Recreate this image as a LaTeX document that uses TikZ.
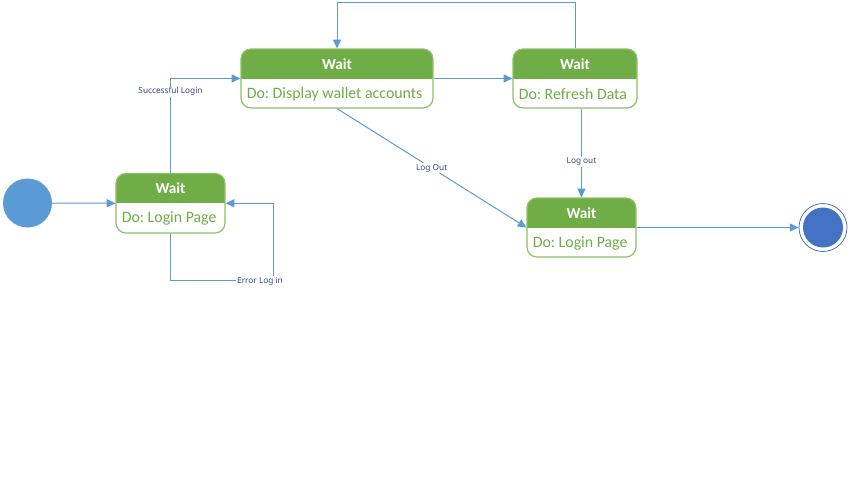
\documentclass[tikz,border=0pt]{standalone}
\usepackage{fontspec}
\setmainfont{Carlito}
\newfontfamily\lblfont{Noto Sans}
\usetikzlibrary{arrows.meta,fit}
\frenchspacing
\definecolor{hdr}{HTML}{70AD47}
\definecolor{bord}{HTML}{8CC168}
\definecolor{bodytxt}{HTML}{70AD47}
\definecolor{lineblue}{HTML}{5B9BD5}
\definecolor{startblue}{HTML}{5B9BD5}
\definecolor{endblue}{HTML}{4472C4}
\definecolor{lbl}{HTML}{34497A}
\tikzset{
  frame/.style={draw=bord, line width=0.9pt, rounded corners=7.5pt, inner sep=0pt},
  headtxt/.style={text=white, font=\fontsize{11.5}{13}\selectfont\bfseries},
  dotxt/.style={text=bodytxt, font=\fontsize{11.9}{14}\selectfont\frenchspacing, anchor=west, inner sep=0pt},
  conn/.style={draw=lineblue, line width=0.75pt, -{Triangle[length=6.5pt,width=6pt]}},
  lab/.style={text=lbl, font=\lblfont\fontsize{6.2}{7}\selectfont, fill=white, inner sep=0.6pt},
}
\newcommand\mystate[7]{% name, x1, y1, x2, y2, title, text
  \begin{scope}
    \clip[rounded corners=7.5pt] (#2,#3) rectangle (#4,#5);
    \fill[hdr] (#2,#3) rectangle (#4,{(#3+#5)/2});
  \end{scope}
  \node[frame, fit={(#2,#3) (#4,#5)}] (#1) {};
  \node[headtxt] (#1h) at ({(#2+#4)/2},{#3+15}) {#6};
  \node[dotxt] (#1d) at ({#2+5.5},{#3+45}) {#7};
}
\begin{document}
\begin{tikzpicture}[x=0.75pt,y=-0.75pt]
\useasboundingbox (0,0) rectangle (851,480);
\fill[white] (0,0) rectangle (851,480);

% start / end
\node[circle, fill=startblue, minimum size=36.75pt, inner sep=0pt] (start) at (27.5,203) {};
\node[circle, draw=endblue, line width=0.6pt, minimum size=36pt, inner sep=0pt] (end) at (823,227.5) {};
\node[circle, fill=endblue, minimum size=30pt, inner sep=0pt] (endin) at (823,227.5) {};

% states
\mystate{s1}{116}{173.5}{225}{233}{Wait}{Do: Login Page}
\mystate{s2}{241}{49}{433}{108}{Wait}{Do: Display wallet accounts}
\mystate{s3}{513}{49}{637}{108}{Wait}{Do: Refresh Data}
\mystate{s4}{527}{198}{636}{257}{Wait}{Do: Login Page}

\coordinate (toprow) at (0,2.5);
\coordinate (errc) at (273,280);

% connectors
\draw[conn] (start) -- (s1.west);
\draw[conn] (s1.north) |- (s2.west) node[lab, pos=0.43] {Successful Login};
\draw[conn] (s1.south) |- (errc) -- (errc |- s1.east) -- (s1.east);
\node[lab] (errlab) at (260,281) {Error Log in};
\draw[conn] (s2.east) -- (s3.west);
\draw[conn] (s3.north) -- (s3.north |- toprow) -| (s2.north);
\draw[conn] (s3.south -| s4.north) -- (s4.north) node[lab, pos=0.6] {Log out};
\draw[conn] (s2.south) -- (s4.west) node[lab, pos=0.5] {Log Out};
\draw[conn] (s4.east) -- (end.west);
\end{tikzpicture}
\end{document}
